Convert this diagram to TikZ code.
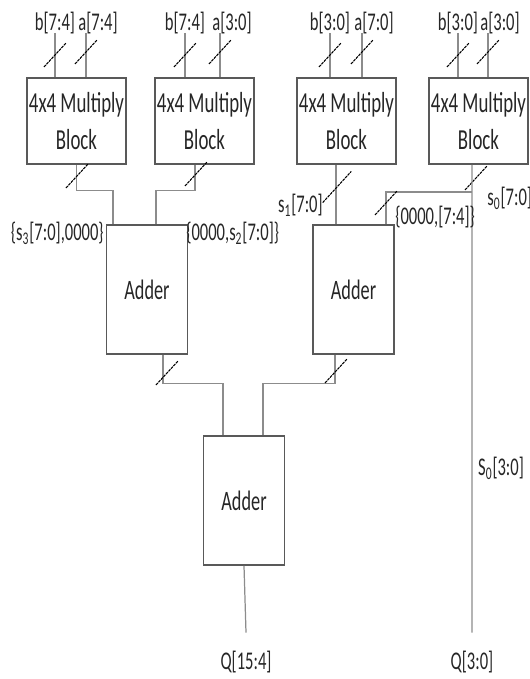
\documentclass[tikz,border=0pt]{standalone}
\usepackage{fontspec}
\setmainfont{Carlito}[FakeStretch=0.65]
\usetikzlibrary{positioning, calc}
\tikzset{
	mulblk/.style ={rectangle, draw=black!65, line width=0.9pt, minimum width=1.92cm, minimum height=1.72cm, align=center, inner sep=1pt, font=\fontsize{16.5}{21}\selectfont},
	addblk/.style ={rectangle, draw=black!65, line width=0.9pt, minimum width=1.62cm, minimum height=2.58cm, align=center, font=\fontsize{16}{18}\selectfont},
	lbl/.style    ={inner sep=0pt, font=\fontsize{14.5}{16}\selectfont},
	wire/.style   ={draw=black!45, line width=0.7pt},
	busline/.style={black, line width=0.6pt, dash pattern=on 1.6pt off 0.5pt},
	busmark/.pic  ={\draw[busline] (-11,12) -- (11,-12);},
}
\begin{document}
\begin{tikzpicture}[x=0.02cm, y=-0.02cm, text=black!85]
\useasboundingbox (0,0) rectangle (530,679);
% multiply blocks
\node[mulblk] (mulA) at (76.5,121) {4x4 Multiply\\Block};
\node[mulblk] (mulB) at (204.5,121) {4x4 Multiply\\Block};
\node[mulblk] (mulC) at (346.5,121) {4x4 Multiply\\Block};
\node[mulblk] (mulD) at (478.5,121) {4x4 Multiply\\Block};
% adders
\node[addblk] (addA) at (147,289.5) {Adder};
\node[addblk] (addB) at (353.5,289.5) {Adder};
\node[addblk] (addC) at (244,500.5) {Adder};
% operand inputs
\foreach \m/\xb/\xa/\lb/\la in {mulA/55/86/b[7:4]/a[7:4], mulB/185/220/b[7:4]/a[3:0], mulC/330/362/b[3:0]/a[7:0], mulD/458/488/b[3:0]/a[3:0]}{
	\node[lbl] (\m-lb) at (\xb,23) {\lb};
	\node[lbl] (\m-la) at (\xa+12,23) {\la};
	\coordinate (\m-b) at (\xb,33);
	\coordinate (\m-a) at (\xa,33);
	\draw[wire] (\m-b) -- (\m-b |- \m.north);
	\draw[wire] (\m-a) -- (\m-a |- \m.north);
	\pic at (\xb,55) {busmark};
	\pic at (\xa,52) {busmark};
}
% products into the first level
\draw[wire] (mulA.south) -- ++(0,26) -| ([xshift=-0.68cm]addA.north);
\draw[wire] ([xshift=-0.19cm]mulB.south) -- ++(0,26) -| ([xshift=0.18cm]addA.north);
\draw[wire] ([xshift=-0.21cm]mulC.south) -- ([xshift=-0.21cm]mulC.south |- addB.north);
\pic at (77,176) {busmark};
\pic at (196,174) {busmark};
\pic[scale=1.3] at (337,187) {busmark};
\pic at (476,178) {busmark};
% low product: split
\node[lbl] (qlo) at (472,662) {Q[3:0]};
\draw[wire] ([xshift=-0.13cm]mulD.south) -- ([yshift=0.36cm]qlo.north);
\coordinate (tap) at (472,192);
\draw[wire] (tap) -| ([xshift=0.65cm]addB.north);
\pic at (386,203) {busmark};
% second level
\draw[wire] ([xshift=0.32cm]addA.south) -- ++(0,29) -| ([xshift=-0.42cm]addC.north);
\draw[wire] ([xshift=-0.37cm]addB.south) -- ++(0,29) -| ([xshift=0.38cm]addC.north);
\pic at (167,373) {busmark};
\pic at (336,371) {busmark};
\node[lbl] (qhi) at (246,662) {Q[15:4]};
\draw[wire] (addC.south) -- ([yshift=0.36cm]qhi.north);
% signal names
\node[lbl, anchor=east] (shi) at (104,233) {\{s\textsubscript{3}[7:0],0000\}};
\node[lbl, anchor=west] (smid) at (186,233) {\{0000,s\textsubscript{2}[7:0]\}};
\node[lbl, anchor=east] (sone) at (323,205) {s\textsubscript{1}[7:0]};
\node[lbl, anchor=west] (slo) at (395,217) {\{0000,[7:4]\}};
\node[lbl, anchor=west] (szero) at (487,198) {s\textsubscript{0}[7:0]};
\node[lbl] (sbits) at (501,468) {S\textsubscript{0}[3:0]};
\end{tikzpicture}
\end{document}
